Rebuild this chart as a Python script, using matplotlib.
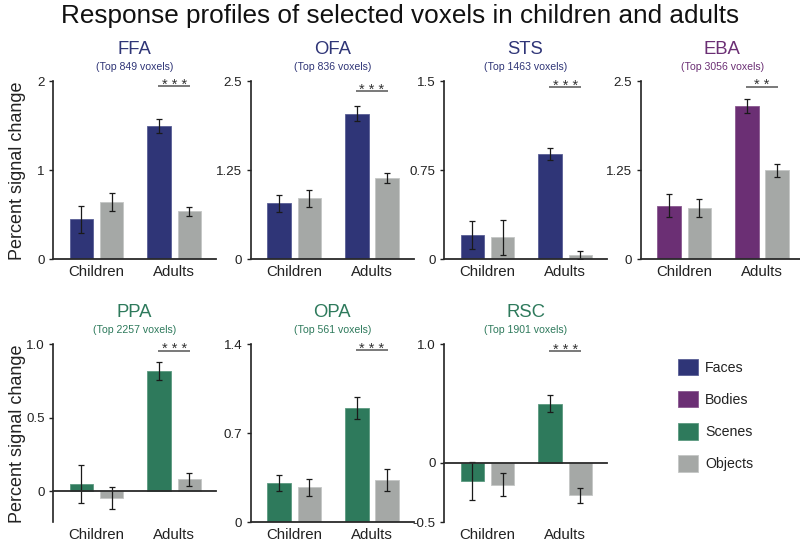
import matplotlib
matplotlib.use('Agg')
import matplotlib.pyplot as plt
from matplotlib.patches import Patch
import numpy as np

plt.rcParams['font.family'] = ['Liberation Sans', 'DejaVu Sans']

# data
regions = ['FFA', 'OFA', 'STS', 'EBA', 'PPA', 'OPA', 'RSC']
voxels = [849, 836, 1463, 3056, 2257, 561, 1901]
pref_cat = ['Faces', 'Faces', 'Faces', 'Bodies', 'Scenes', 'Scenes', 'Scenes']
groups = ['Children', 'Adults']

pref_children = [0.45, 0.785, 0.204, 0.752, 0.05, 0.309, -0.151]
pref_children_err = [0.15, 0.12, 0.12, 0.16, 0.128, 0.065, 0.16]
obj_children = [0.646, 0.855, 0.185, 0.715, -0.043, 0.275, -0.182]
obj_children_err = [0.10, 0.125, 0.15, 0.125, 0.075, 0.065, 0.098]
pref_adults = [1.50, 2.047, 0.888, 2.154, 0.82, 0.897, 0.50]
pref_adults_err = [0.08, 0.107, 0.054, 0.10, 0.06, 0.088, 0.07]
obj_adults = [0.538, 1.144, 0.036, 1.252, 0.082, 0.333, -0.274]
obj_adults_err = [0.055, 0.075, 0.035, 0.09, 0.043, 0.087, 0.063]

stars = ['***', '***', '***', '**', '***', '***', '***']
sig_y = [1.95, 2.36, 1.45, 2.425, 0.957, 1.356, 0.941]

ylims = [(0, 2), (0, 2.5), (0, 1.5), (0, 2.5), (-0.21, 1.0), (0, 1.4), (-0.5, 1.0)]
yticks = [[0, 1, 2], [0, 1.25, 2.5], [0, 0.75, 1.5], [0, 1.25, 2.5],
          [0, 0.5, 1.0], [0, 0.7, 1.4], [-0.5, 0, 1.0]]
yticklabels = [['0', '1', '2'], ['0', '1.25', '2.5'], ['0', '0.75', '1.5'],
               ['0', '1.25', '2.5'], ['0', '0.5', '1.0'], ['0', '0.7', '1.4'],
               ['-0.5', '0', '1.0']]

colors = {'Faces': '#2f3577', 'Bodies': '#6b2f74', 'Scenes': '#2e7a5c',
          'Objects': '#a5a8a6'}
edges = {'Faces': '#5a5f96', 'Bodies': '#8a5890', 'Scenes': '#5c9a80',
         'Objects': '#c4c6c5'}

fig = plt.figure(figsize=(8, 5.49), dpi=100)
fig.text(0.5, 1 - 16.5 / 549, 'Response profiles of selected voxels in children and adults',
         ha='center', va='center', fontsize=18.8, color='#111111')

lefts = [53, 250.7, 444, 640.7, 53, 250.7, 444]
tops = [81.3, 81.3, 81.3, 81.3, 344.3, 344.3, 344.3]
ax_w = 163 / 800
ax_h = 178 / 549

x = np.arange(len(groups))
off = 0.195
bw = 0.303

for i, reg in enumerate(regions):
    left = lefts[i] / 800
    bottom = 1 - (tops[i] + 178) / 549
    ax = fig.add_axes([left, bottom, ax_w, ax_h])
    cat = pref_cat[i]
    pv = [pref_children[i], pref_adults[i]]
    pe = [pref_children_err[i], pref_adults_err[i]]
    ov = [obj_children[i], obj_adults[i]]
    oe = [obj_children_err[i], obj_adults_err[i]]
    ekw = dict(ecolor='#1a1a1a', elinewidth=0.9, capsize=2, capthick=0.9)
    ax.bar(x - off, pv, bw, yerr=pe, color=colors[cat], edgecolor=edges[cat],
           linewidth=0.6, error_kw=ekw, zorder=2)
    ax.bar(x + off, ov, bw, yerr=oe, color=colors['Objects'], edgecolor=edges['Objects'],
           linewidth=0.6, error_kw=ekw, zorder=2)

    ax.axhline(0, color='#2a2a2a', lw=1.3, clip_on=False, zorder=3)
    ax.set_xlim(-0.562, 1.539)
    ax.set_ylim(*ylims[i])
    ax.set_yticks(yticks[i])
    ax.set_yticklabels(yticklabels[i])
    ax.set_xticks(x)
    ax.set_xticklabels(groups)
    ax.tick_params(axis='x', length=0, pad=4, labelsize=10.8, labelcolor='#222222')
    ax.tick_params(axis='y', length=3, width=1, direction='out', pad=3,
                   labelsize=9.6, labelcolor='#222222', color='#222222')
    for s in ['top', 'right', 'bottom']:
        ax.spines[s].set_visible(False)
    ax.spines['left'].set_linewidth(1.2)
    ax.spines['left'].set_color('#222222')
    ax.patch.set_alpha(0)

    # significance line
    ax.plot([1 - 0.21, 1 + 0.21], [sig_y[i], sig_y[i]], color='#555555', lw=1.1,
            solid_capstyle='butt', clip_on=False)
    ax.annotate(' '.join(stars[i]), xy=(1, sig_y[i]), xytext=(0, -2),
                textcoords='offset points', ha='center', va='baseline',
                fontsize=10.5, color='#333333', annotation_clip=False)

    tcol = colors[cat]
    ax.annotate(reg, xy=(0.5, 1), xycoords='axes fraction', xytext=(0, 31.6 * 0.72),
                textcoords='offset points', ha='center', va='center',
                fontsize=13.3, color=tcol, annotation_clip=False)
    ax.annotate('(Top %d voxels)' % voxels[i], xy=(0.5, 1), xycoords='axes fraction',
                xytext=(0, 14 * 0.72), textcoords='offset points', ha='center',
                va='center', fontsize=7.6, color=tcol, annotation_clip=False)

    if i in (0, 4):
        ax.set_ylabel('Percent signal change', fontsize=13, color='#222222')
        ax.yaxis.set_label_coords(-0.165, 0.5)

handles = [Patch(facecolor=colors[c], edgecolor=edges[c], linewidth=0.6, label=c)
           for c in ['Faces', 'Bodies', 'Scenes', 'Objects']]
fig.legend(handles=handles, loc='upper left', bbox_to_anchor=(678.3 / 800, 1 - 359 / 549),
           frameon=False, borderpad=0, borderaxespad=0, fontsize=10.2,
           handlelength=1.41, handleheight=1.41, handletextpad=0.47, labelspacing=1.1,
           labelcolor='#222222')

fig.savefig('out.png', dpi=100)
